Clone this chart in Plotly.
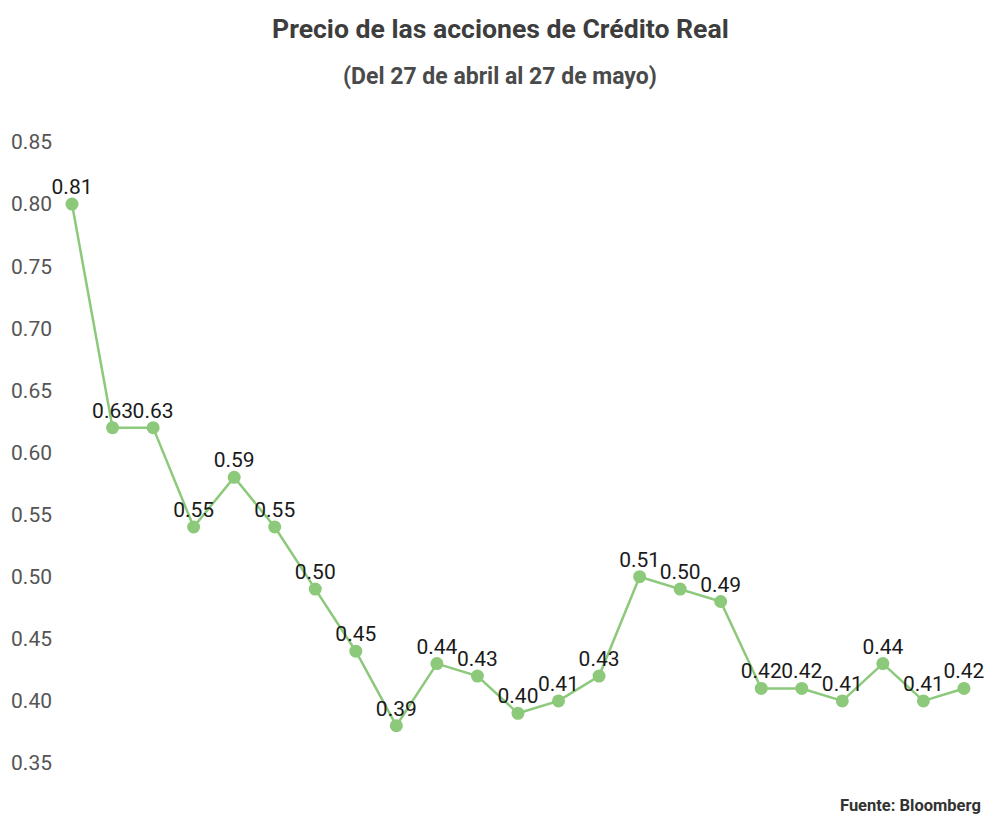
import plotly.graph_objects as go

# daily closing price of Crédito Real, 27 Apr - 27 May
day = list(range(23))
price = [0.80, 0.62, 0.62, 0.54, 0.58, 0.54, 0.49, 0.44, 0.38, 0.43, 0.42, 0.39,
         0.40, 0.42, 0.50, 0.49, 0.48, 0.41, 0.41, 0.40, 0.43, 0.40, 0.41]
price_labels = ['0.81', '0.63', '0.63', '0.55', '0.59', '0.55', '0.50', '0.45', '0.39',
                '0.44', '0.43', '0.40', '0.41', '0.43', '0.51', '0.50', '0.49', '0.42',
                '0.42', '0.41', '0.44', '0.41', '0.42']
y_ticks = [0.35, 0.40, 0.45, 0.50, 0.55, 0.60, 0.65, 0.70, 0.75, 0.80, 0.85]

green = '#8cc97b'

# page body has an 8px margin, so everything is laid out 8px up/left
L, R, T, B = 45, 25, 112, 54
W, H = 1000, 826

fig = go.Figure()
fig.add_trace(go.Scatter(
    x=day, y=price,
    mode='lines+markers',
    line=dict(color=green, width=2.5),
    marker=dict(color=green, size=13),
    cliponaxis=False,
    hoverinfo='x+y',
))
# value labels on their own trace; the hidden marker sets the gap above the point
fig.add_trace(go.Scatter(
    x=day, y=price,
    mode='markers+text',
    marker=dict(size=6, opacity=0),
    text=price_labels,
    textposition='top center',
    textfont=dict(family='Roboto', size=21, color='#1a1a1a'),
    cliponaxis=False,
    hoverinfo='skip',
))

fig.update_xaxes(range=[-0.469, 22.47], visible=False, showgrid=False, zeroline=False)
fig.update_yaxes(
    range=[0.3363, 0.8677],
    tickvals=y_ticks,
    ticktext=[f'{v:.2f}' for v in y_ticks],
    tickfont=dict(family='Roboto', size=21, color='#555555'),
    showgrid=False, zeroline=False, showline=False, ticks='',
    automargin=False,
)


def px_x(p):
    return (p - 8 - L) / (W - L - R)


def px_y(p):
    return (H - B - (p - 8)) / (H - T - B)


fig.update_layout(
    width=W, height=H,
    margin=dict(l=L, r=R, t=T, b=B),
    paper_bgcolor='white', plot_bgcolor='white',
    showlegend=False,
    font=dict(family='Roboto'),
    annotations=[
        dict(text='<b>Precio de las acciones de Crédito Real</b>', x=px_x(500), y=px_y(28),
             xref='paper', yref='paper', showarrow=False, yanchor='middle',
             font=dict(family='Roboto', size=26.6, color='#3d3d3d')),
        dict(text='<b>(Del 27 de abril al 27 de mayo)</b>', x=px_x(500), y=px_y(77),
             xref='paper', yref='paper', showarrow=False, yanchor='middle',
             font=dict(family='Roboto', size=23, color='#4a4a4a')),
        dict(text='<b>Fuente: Bloomberg</b>', x=px_x(983), y=px_y(805),
             xref='paper', yref='paper', showarrow=False, xanchor='right', yanchor='middle',
             font=dict(family='Roboto', size=16.5, color='#333333')),
    ],
)

fig.write_html('out.html')
